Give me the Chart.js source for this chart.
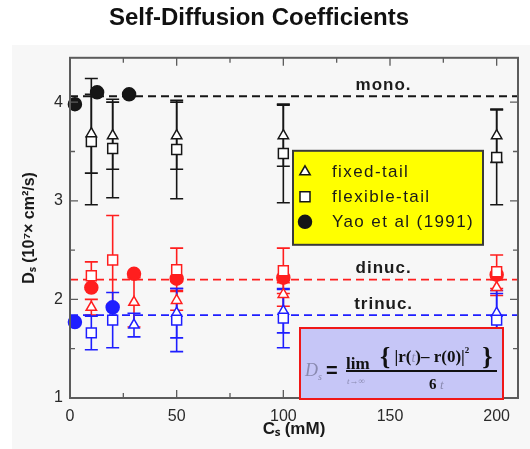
<!DOCTYPE html>
<html lang="en">
<head>
<meta charset="UTF-8">
<title>Self-Diffusion Coefficients</title>
<script src="https://cdn.jsdelivr.net/npm/chart.js"></script>
<style>
  html, body { margin: 0; padding: 0; background: #fff; }
  #wrap { width: 530px; height: 449px; }
</style>
</head>
<body>
<div id="wrap"><canvas id="diffChart" width="530" height="449"></canvas></div>
<script>
// salt concentration (mM) and D_s values, one set per species
const monoTriX = [10, 20, 50, 100, 200];
const monoTriY = [3.68, 3.66, 3.66, 3.66, 3.66];
const monoTriErr = [0.40, 0.34, 0.34, 0.31, 0.27];
const monoSqX = [10, 20, 50, 100, 200];
const monoSqY = [3.60, 3.53, 3.52, 3.48, 3.44];
const monoSqErr = [0.64, 0.50, 0.50, 0.50, 0.48];
const monoYaoX = [2.3, 12.7, 27.7];
const monoYaoY = [3.98, 4.10, 4.08];

const diTriX = [10, 30, 50, 100, 200];
const diTriY = [1.92, 1.97, 1.99, 2.05, 2.12];
const diTriErr = [0.08, 0.25, 0.10, 0.12, 0.08];
const diSqX = [10, 20, 50, 100, 200];
const diSqY = [2.24, 2.40, 2.30, 2.29, 2.28];
const diSqErr = [0.14, 0.45, 0.22, 0.23, 0.17];
const diYaoX = [10, 30, 50, 100, 200];
const diYaoY = [2.12, 2.26, 2.21, 2.22, 2.25];

const triTriX = [30, 50, 100, 200];
const triTriY = [1.74, 1.86, 1.88, 1.86];
const triTriErr = [0.12, 0.25, 0.22, 0.20];
const triSqX = [10, 20, 50, 100, 200];
const triSqY = [1.66, 1.79, 1.79, 1.81, 1.79];
const triSqErr = [0.17, 0.28, 0.32, 0.30, 0.30];
const triYaoX = [2.3, 20];
const triYaoY = [1.77, 1.92];

// dashed reference levels
const refNames = ['mono.', 'dinuc.', 'trinuc.'];
const refLevels = [4.06, 2.2, 1.84];

const legendLabels = ['fixed-tail', 'flexible-tail', 'Yao et al (1991)'];
const xTicks = [0, 50, 100, 150, 200];
const yTicks = [1, 2, 3, 4];

const SANS = '"Liberation Sans", Arial, Helvetica, sans-serif';
const SERIF = '"Liberation Serif", "Times New Roman", serif';
const BLACK = '#161616', RED = '#ff1e1e', BLUE = '#1e1eff';
const colors = [BLACK, RED, BLUE];

function pts(xs, ys) {
  return xs.map((x, i) => ({ x: x, y: ys[i] }));
}

function markerSet(label, xs, ys, errs, color, style, filled, order) {
  return {
    label: label,
    data: pts(xs, ys),
    errors: errs,
    borderColor: color,
    backgroundColor: filled ? color : '#fff',
    pointStyle: style,
    pointRadius: style === 'rect' ? 7 : (style === 'circle' ? 6.5 : 6),
    pointBorderWidth: 1.5,
    showLine: false,
    clip: false,
    order: order
  };
}

function refLine(i) {
  return {
    label: refNames[i],
    data: [{ x: 0, y: refLevels[i] }, { x: 210, y: refLevels[i] }],
    borderColor: colors[i],
    borderWidth: 1.8,
    borderDash: [8, 5],
    pointRadius: 0,
    showLine: true,
    order: 10
  };
}

const datasets = [
  refLine(0), refLine(1), refLine(2),
  markerSet(legendLabels[2], monoYaoX, monoYaoY, null, BLACK, 'circle', true, 6),
  markerSet(legendLabels[2], diYaoX, diYaoY, null, RED, 'circle', true, 6),
  markerSet(legendLabels[2], triYaoX, triYaoY, null, BLUE, 'circle', true, 6),
  markerSet(legendLabels[0], monoTriX, monoTriY, monoTriErr, BLACK, 'triangle', false, 5),
  markerSet(legendLabels[0], diTriX, diTriY, diTriErr, RED, 'triangle', false, 5),
  markerSet(legendLabels[0], triTriX, triTriY, triTriErr, BLUE, 'triangle', false, 5),
  markerSet(legendLabels[1], monoSqX, monoSqY, monoSqErr, BLACK, 'rect', false, 4),
  markerSet(legendLabels[1], diSqX, diSqY, diSqErr, RED, 'rect', false, 4),
  markerSet(legendLabels[1], triSqX, triSqY, triSqErr, BLUE, 'rect', false, 4)
];

function drawMarker(ctx, style, x, y, fill, stroke) {
  ctx.beginPath();
  if (style === 'triangle') {
    ctx.moveTo(x, y - 6);
    ctx.lineTo(x + 5.2, y + 3);
    ctx.lineTo(x - 5.2, y + 3);
    ctx.closePath();
  } else if (style === 'rect') {
    ctx.rect(x - 5, y - 5, 10, 10);
  } else {
    ctx.arc(x, y, 6.5, 0, Math.PI * 2);
  }
  ctx.fillStyle = fill;
  ctx.fill();
  ctx.lineWidth = 1.5;
  ctx.strokeStyle = stroke;
  ctx.stroke();
}

// page tint behind the plot
const backdrop = {
  id: 'backdrop',
  beforeDraw(chart) {
    const ctx = chart.ctx;
    ctx.save();
    ctx.fillStyle = '#fff';
    ctx.fillRect(0, 0, chart.width, chart.height);
    ctx.fillStyle = '#f7f7f7';
    ctx.fillRect(12, 45, chart.width - 12, chart.height - 45);
    ctx.restore();
  }
};

// vertical error bars with caps, under the markers
const errorBars = {
  id: 'errorBars',
  beforeDatasetsDraw(chart) {
    const ctx = chart.ctx, ys = chart.scales.y;
    chart.data.datasets.forEach((ds, i) => {
      if (!ds.errors) return;
      const meta = chart.getDatasetMeta(i);
      ctx.save();
      ctx.strokeStyle = ds.borderColor;
      ctx.lineWidth = 1.6;
      ctx.beginPath();
      meta.data.forEach((pt, j) => {
        const e = ds.errors[j];
        if (!e) return;
        const v = ds.data[j].y;
        const top = ys.getPixelForValue(v + e), bot = ys.getPixelForValue(v - e);
        ctx.moveTo(pt.x, top); ctx.lineTo(pt.x, bot);
        ctx.moveTo(pt.x - 6.5, top); ctx.lineTo(pt.x + 6.5, top);
        ctx.moveTo(pt.x - 6.5, bot); ctx.lineTo(pt.x + 6.5, bot);
      });
      ctx.stroke();
      ctx.restore();
    });
  }
};

// box frame with inward major/minor ticks on all four sides
const frame = {
  id: 'frame',
  afterDatasetsDraw(chart) {
    const { ctx, chartArea: a, scales: { x, y } } = chart;
    ctx.save();
    ctx.strokeStyle = '#5c5c5c';
    ctx.lineWidth = 1.3;
    ctx.beginPath();
    xTicks.forEach((v, i) => {
      const marks = [[v, 8]];
      if (i < xTicks.length - 1) marks.push([(v + xTicks[i + 1]) / 2, 5]);
      marks.forEach(([m, len]) => {
        const px = x.getPixelForValue(m);
        ctx.moveTo(px, a.bottom); ctx.lineTo(px, a.bottom - len);
        ctx.moveTo(px, a.top); ctx.lineTo(px, a.top + len);
      });
    });
    yTicks.forEach((v, i) => {
      const marks = [[v, 8]];
      if (i < yTicks.length - 1) marks.push([(v + yTicks[i + 1]) / 2, 5]);
      marks.forEach(([m, len]) => {
        const py = y.getPixelForValue(m);
        ctx.moveTo(a.left, py); ctx.lineTo(a.left + len, py);
        ctx.moveTo(a.right, py); ctx.lineTo(a.right - len, py);
      });
    });
    ctx.stroke();
    ctx.lineWidth = 2;
    ctx.strokeRect(a.left, a.top, a.right - a.left, a.bottom - a.top);
    ctx.restore();
  }
};

// names written above the dashed reference levels
const refText = {
  id: 'refText',
  afterDatasetsDraw(chart) {
    const { ctx, scales: { x, y } } = chart;
    ctx.save();
    ctx.font = 'bold 17px ' + SANS;
    ctx.letterSpacing = '1px';
    ctx.fillStyle = '#1c1c1c';
    ctx.textAlign = 'center';
    ctx.textBaseline = 'middle';
    refNames.forEach((name, i) => {
      ctx.fillText(name, x.getPixelForValue(147), y.getPixelForValue(refLevels[i]) - 11);
    });
    ctx.restore();
  }
};

// yellow legend box
const legendBox = {
  id: 'legendBox',
  afterDraw(chart) {
    const { ctx, chartArea: a } = chart;
    const L = a.left + 223, T = a.top + 93, W = 190, H = 94;
    const styles = ['triangle', 'rect', 'circle'];
    ctx.save();
    ctx.fillStyle = '#ffff00';
    ctx.fillRect(L, T, W, H);
    ctx.strokeStyle = '#3a3a3a';
    ctx.lineWidth = 2;
    ctx.strokeRect(L, T, W, H);
    legendLabels.forEach((label, i) => {
      const cy = T + 21 + i * 25;
      drawMarker(ctx, styles[i], L + 12, cy, styles[i] === 'circle' ? BLACK : '#fff', BLACK);
      ctx.font = '17px ' + SANS;
      ctx.letterSpacing = '1.4px';
      ctx.fillStyle = '#1a1a1a';
      ctx.textBaseline = 'middle';
      ctx.fillText(label, L + 39, cy + 1);
    });
    ctx.restore();
  }
};

// D_s = lim <|r(t) - r(0)|^2> / 6t
const formulaBox = {
  id: 'formulaBox',
  afterDraw(chart) {
    const { ctx, chartArea: a } = chart;
    const L = a.right - 218, T = a.bottom - 70, W = 203, H = 71;
    const gray = '#8a8ab0';
    ctx.save();
    ctx.fillStyle = '#c6c6f7';
    ctx.fillRect(L, T, W, H);
    ctx.strokeStyle = '#f01818';
    ctx.lineWidth = 2;
    ctx.strokeRect(L, T, W, H);
    ctx.textBaseline = 'alphabetic';

    ctx.fillStyle = gray;
    ctx.font = 'italic 18px ' + SERIF;
    ctx.fillText('D', L + 5, T + 48);
    ctx.font = 'italic 10px ' + SERIF;
    ctx.fillText('s', L + 18, T + 52);

    ctx.fillStyle = '#111';
    ctx.font = 'bold 20px ' + SANS;
    ctx.fillText('=', L + 26, T + 49);

    ctx.font = 'bold 17px ' + SERIF;
    ctx.fillText('lim', L + 46, T + 41);
    ctx.fillRect(L + 46, T + 42, 151, 2);

    ctx.fillStyle = gray;
    ctx.font = 'italic 9px ' + SERIF;
    ctx.fillText('t→∞', L + 47, T + 56);

    // numerator, set piece by piece
    let cx = L + 80;
    const piece = (txt, font, color, dy) => {
      ctx.font = font;
      ctx.fillStyle = color;
      ctx.fillText(txt, cx, T + 34 + (dy || 0));
      cx += ctx.measureText(txt).width;
    };
    piece('{', 'bold 26px ' + SERIF, '#111', 3);
    piece(' |r(', 'bold 17px ' + SERIF, '#111');
    piece('t', 'italic 14px ' + SERIF, gray);
    piece(')– r(0', 'bold 17px ' + SERIF, '#111');
    piece(')|', 'bold 17px ' + SERIF, '#111');
    piece('2', 'bold 9px ' + SERIF, '#111', -9);
    piece('  }', 'bold 26px ' + SERIF, '#111', 3);

    ctx.fillStyle = '#111';
    ctx.font = 'bold 15px ' + SERIF;
    ctx.fillText('6', L + 129, T + 61);
    ctx.fillStyle = gray;
    ctx.font = 'italic 13px ' + SERIF;
    ctx.fillText('t', L + 140, T + 61);
    ctx.restore();
  }
};

new Chart(document.getElementById('diffChart'), {
  type: 'scatter',
  data: { datasets: datasets },
  options: {
    responsive: false,
    animation: false,
    layout: { padding: { left: 0, right: 12, top: 0, bottom: 0 } },
    plugins: {
      legend: { display: false },
      tooltip: { enabled: false },
      title: {
        display: true,
        text: 'Self-Diffusion Coefficients',
        color: '#111',
        font: { family: SANS, size: 24, weight: 'bold' },
        padding: { top: 4, bottom: 25 }
      }
    },
    scales: {
      x: {
        type: 'linear',
        min: 0,
        max: 210,
        afterBuildTicks: s => { s.ticks = xTicks.map(v => ({ value: v })); },
        afterFit: s => { s.height = 51; },
        grid: { display: false, drawTicks: false },
        border: { display: false },
        ticks: { color: '#2a2a2a', padding: 9, font: { family: SANS, size: 16 } },
        title: {
          display: true,
          text: 'Cₛ (mM)',
          color: '#1a1a1a',
          font: { family: SANS, size: 17, weight: 'bold' },
          padding: { top: 0, bottom: 9 }
        }
      },
      y: {
        type: 'linear',
        min: 1,
        max: 4.45,
        afterBuildTicks: s => { s.ticks = yTicks.map(v => ({ value: v })); },
        afterFit: s => { s.width = 70; },
        grid: { display: false, drawTicks: false },
        border: { display: false },
        ticks: { color: '#2a2a2a', padding: 7, font: { family: SANS, size: 16 } },
        title: {
          display: true,
          text: 'Dₛ (10⁷× cm²/s)',
          color: '#1a1a1a',
          font: { family: SANS, size: 16, weight: 'bold' },
          padding: { top: 20, bottom: 0 }
        }
      }
    }
  },
  plugins: [backdrop, errorBars, frame, refText, legendBox, formulaBox]
});
</script>
</body>
</html>
